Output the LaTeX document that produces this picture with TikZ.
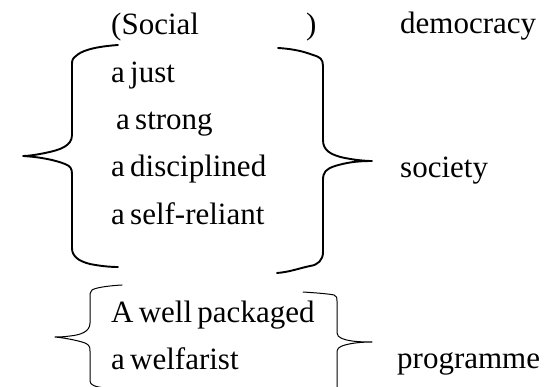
\documentclass[tikz,border=0pt]{standalone}
\usepackage{fontspec}
\setmainfont{Liberation Serif}
\newcommand{\lblfont}{\fontsize{31}{34}\selectfont\spaceskip=0.17em plus 0.05em minus 0.02em\relax}
\begin{document}
\begin{tikzpicture}[x=1pt,y=-1pt,
  lbl/.style={anchor=base west,inner sep=0pt,font=\lblfont},
  bigbrace/.style={line width=1.9pt,line join=round,line cap=round},
  smallbrace/.style={line width=1pt,line join=round,line cap=round}]
\useasboundingbox (0,0) rectangle (557,387);
\clip (0,0) rectangle (557,387);
\fill[white] (0,0) rectangle (557,387);
% texts
\node[lbl] (social) at (111,35) {(Social};
\node[lbl] (rpar) at (306,35) {)};
\node[lbl] (democracy) at (400,34) {democracy};
\node[lbl] (just) at (111,83) {a just};
\node[lbl] (strong) at (116,130) {a strong};
\node[lbl] (disc) at (111,177) {a disciplined};
\node[lbl] (self) at (111,225) {a self-reliant};
\node[lbl] (society) at (400,178) {society};
\node[lbl] (packaged) at (111,323) {A well packaged};
\node[lbl] (welfarist) at (111,370) {a welfarist};
\node[lbl] (programme) at (397,369) {programme};
% big left brace
\draw[bigbrace] (118,45) .. controls (90,47) and (80,52) .. (76,56)
  .. controls (73,58) and (72,60) .. (72,64) -- (72,135)
  .. controls (72,146) and (60,150) .. (45,153)
  .. controls (35,155) and (28,156) .. (23,156)
  .. controls (40,157) and (55,160) .. (65,164)
  .. controls (70,166) and (72,168) .. (72,174) -- (72,248)
  .. controls (72,256) and (78,261) .. (90,264)
  .. controls (100,266) and (110,267) .. (118,267);
% big right brace
\draw[bigbrace] (278,48) .. controls (295,49) and (305,52) .. (313,55)
  .. controls (320,57) and (323,59) .. (323,66) -- (323,140)
  .. controls (323,150) and (330,155) .. (345,158)
  .. controls (355,160) and (365,161) .. (372,161)
  .. controls (355,161) and (345,163) .. (335,166)
  .. controls (326,169) and (323,172) .. (323,180) -- (323,252)
  .. controls (323,260) and (318,265) .. (310,266)
  .. controls (300,268) and (290,272) .. (277,273);
% small left brace
\draw[smallbrace] (122,285) .. controls (105,286) and (95,288) .. (92,290)
  .. controls (90,292) and (90,294) .. (90,297) -- (90,323)
  .. controls (90,332) and (80,335) .. (70,336)
  .. controls (63,337) and (58,337) .. (55,337)
  .. controls (65,338) and (75,340) .. (82,342)
  .. controls (89,344) and (90,346) .. (90,351) -- (90,381)
  .. controls (90,385) and (95,387) .. (106,388);
% small right brace
\draw[smallbrace] (303,292) .. controls (318,293) and (330,294) .. (334,295)
  .. controls (337,296) and (337,298) .. (337,301) -- (337,333)
  .. controls (337,338) and (345,340) .. (352,341)
  .. controls (360,342) and (368,342) .. (372,342)
  .. controls (362,342) and (352,343) .. (345,345)
  .. controls (338,347) and (337,349) .. (337,353) -- (337,392);
\end{tikzpicture}
\end{document}
